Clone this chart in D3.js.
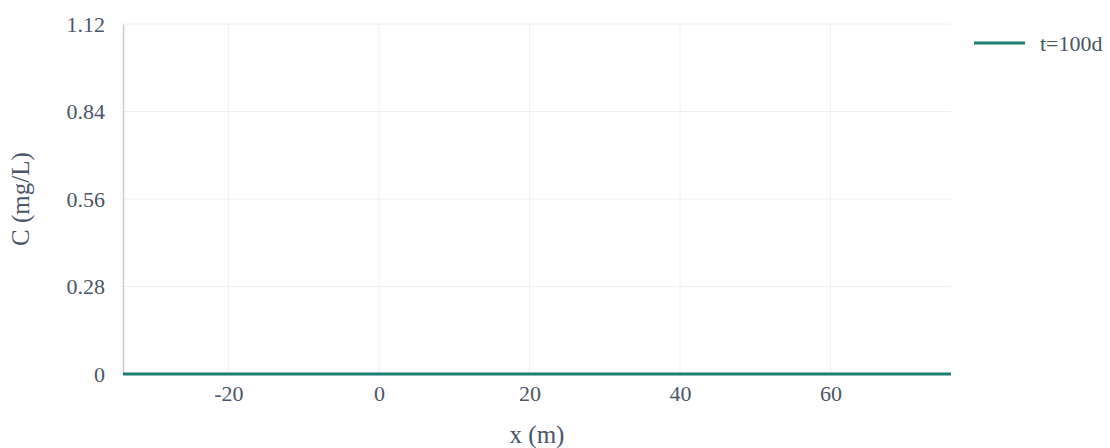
<!DOCTYPE html>
<html><head><meta charset="utf-8">
<script src="https://cdn.jsdelivr.net/npm/d3@7"></script>
<style>body{margin:0;background:#fff}svg{display:block}</style>
</head><body>
<svg id="c" width="1110" height="448"></svg>
<script>
const xValues = [-34,-30,-26,-22,-18,-14,-10,-6,-2,2,6,10,14,18,22,26,30,34,38,42,46,50,54,58,62,66,70,74,76];
const cValues = [0,0,0,0,0,0,0,0,0,0,0,0,0,0,0,0,0,0,0,0,0,0,0,0,0,0,0,0,0];
const xTicks = [-20,0,20,40,60];
const xTickLabels = ["-20","0","20","40","60"];
const yTicks = [0,0.28,0.56,0.84,1.12];
const yTickLabels = ["0","0.28","0.56","0.84","1.12"];
const seriesName = "t=100d";

const svg = d3.select("#c");
const font = "'Liberation Serif','Times New Roman',serif";
const textColor = "#4a5568";
const x = d3.scaleLinear().domain([-34,76]).range([123,951]);
const y = d3.scaleLinear().domain([0,1.12]).range([374,24]);

// grid
svg.append("g").selectAll("line").data(xTicks).join("line")
  .attr("x1",d=>x(d)).attr("x2",d=>x(d)).attr("y1",y(1.12)).attr("y2",y(0))
  .attr("stroke","#eef0f4").attr("stroke-width",1);
svg.append("g").selectAll("line").data(yTicks).join("line")
  .attr("x1",x(-34)).attr("x2",x(76)).attr("y1",d=>y(d)).attr("y2",d=>y(d))
  .attr("stroke","#eef0f4").attr("stroke-width",1);

// y axis
const ya = svg.append("g").attr("transform",`translate(${x(-34)},0)`)
  .call(d3.axisLeft(y).tickValues(yTicks).tickFormat((d,i)=>yTickLabels[i]).tickSize(0).tickPadding(18));
ya.select(".domain").attr("stroke","#c5cdd9").attr("stroke-width",1.5);
ya.selectAll("text").attr("font-family",font).attr("font-size",22).attr("fill",textColor);

// x axis
const xa = svg.append("g").attr("transform",`translate(0,${y(0)})`)
  .call(d3.axisBottom(x).tickValues(xTicks).tickFormat((d,i)=>xTickLabels[i]).tickSize(0).tickPadding(11));
xa.select(".domain").remove();
xa.selectAll("text").attr("font-family",font).attr("font-size",22).attr("fill",textColor);

// line
svg.append("path").datum(xValues.map((v,i)=>[v,cValues[i]]))
  .attr("d",d3.line().x(d=>x(d[0])).y(d=>y(d[1])))
  .attr("fill","none").attr("stroke","#1b7d72").attr("stroke-width",3);

// labels
svg.append("text").attr("x",(x(-34)+x(76))/2).attr("y",443).attr("text-anchor","middle")
  .attr("font-family",font).attr("font-size",25).attr("fill",textColor).text("x (m)");
svg.append("text").attr("transform",`translate(29,${(y(0)+y(1.12))/2}) rotate(-90)`).attr("text-anchor","middle")
  .attr("font-family",font).attr("font-size",25).attr("fill",textColor).text("C (mg/L)");

// legend
svg.append("line").attr("x1",974).attr("x2",1025).attr("y1",43).attr("y2",43)
  .attr("stroke","#1b7d72").attr("stroke-width",3);
svg.append("text").attr("x",1040).attr("y",51).attr("font-family",font).attr("font-size",22)
  .attr("fill",textColor).text(seriesName);
</script>
</body></html>
